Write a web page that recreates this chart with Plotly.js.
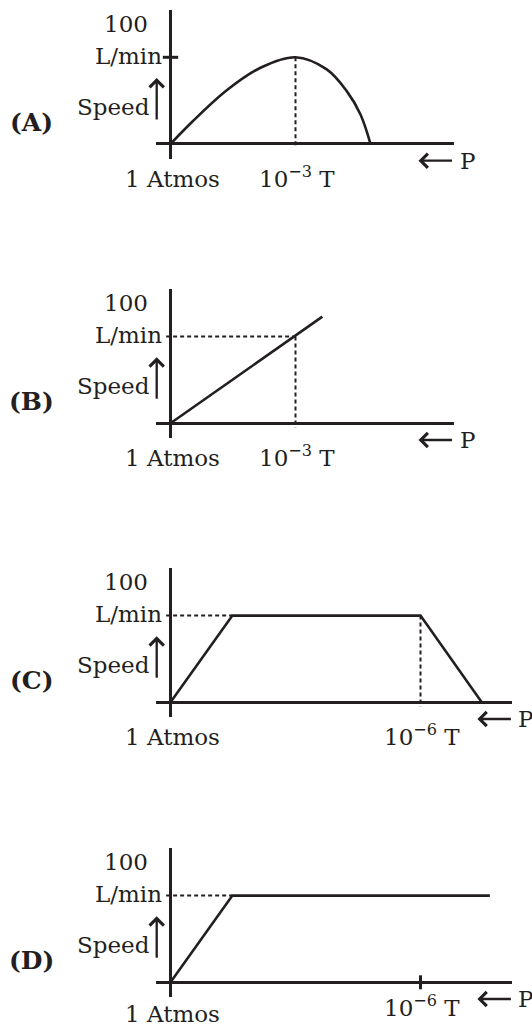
<!DOCTYPE html>
<html>
<head>
<meta charset="utf-8">
<script src="https://cdn.plot.ly/plotly-3.0.1.min.js"></script>
<style>
  html, body { margin: 0; padding: 0; background: #fff; }
  #plot { width: 532px; height: 1028px; }
</style>
</head>
<body>
<div id="plot"></div>
<script>
// four sketches of pump speed vs pressure (pressure falls to the right)

// panel names and axis labels
let panelNames = ['(A)', '(B)', '(C)', '(D)']
let speedTop = '100'
let speedUnit = 'L/min'
let speedName = 'Speed'
let startLabel = '1 Atmos'
let pressureLabels = ['10<sup>\u22123</sup> T', '10<sup>\u22123</sup> T', '10<sup>\u22126</sup> T', '10<sup>\u22126</sup> T']
let pressureMarks = [1, 1, 2, 2] // where the marked pressure sits on the x axis

// speed curves (x in schematic pressure units, y in L/min)
let curveA_x = [0, 0.18, 0.45, 0.72, 1.0, 1.25, 1.41, 1.52, 1.6]
let curveA_y = [0, 26.5, 62, 88, 100, 86, 61, 34, 0]
let curveB_x = [0, 1.215]
let curveB_y = [0, 123]
let curveC_x = [0, 0.495, 2.0, 2.49]
let curveC_y = [0, 100, 100, 0]
let curveD_x = [0, 0.495, 2.555]
let curveD_y = [0, 100, 100]

// dashed guide lines (null breaks the line)
let guideA_x = [1, 1]
let guideA_y = [100, -5]
let guideB_x = [-0.035, 1, null, 1, 1]
let guideB_y = [100, 100, null, 100, -5]
let guideC_x = [-0.035, 0.495, null, 2, 2]
let guideC_y = [100, 100, null, 100, -5]
let guideD_x = [-0.035, 0.495]
let guideD_y = [100, 100]

let curvesX = [curveA_x, curveB_x, curveC_x, curveD_x]
let curvesY = [curveA_y, curveB_y, curveC_y, curveD_y]
let guidesX = [guideA_x, guideB_x, guideC_x, guideD_x]
let guidesY = [guideA_y, guideB_y, guideC_y, guideD_y]

// page geometry in pixels
let W = 532, H = 1028
let ink = '#231f20'
let font = 'DejaVu Serif'
let zeroPx = [144, 423.3, 702.3, 982.3] // y pixel of each x axis
let rightPx = [453.5, 453.5, 512.4, 512.4] // right end of each x axis
let originPx = 170.5, leftPx = 155.5
let pxPerX = 125, pxPerY = 0.867
let yRange = [-17, 154.5]

function PX(x) { return x / W }
function PY(y) { return 1 - y / H }

let data = []
let layout = {
    width: W,
    height: H,
    margin: { l: 0, r: 0, t: 0, b: 0, pad: 0 },
    paper_bgcolor: '#fff',
    plot_bgcolor: 'rgba(0,0,0,0)',
    showlegend: false,
    font: { family: font, size: 23, color: ink },
    annotations: []
}

for (let i = 0; i < 4; i++) {
    let n = i == 0 ? '' : String(i + 1)
    let Z = zeroPx[i]

    layout['xaxis' + n] = {
        domain: [PX(leftPx), PX(rightPx[i])],
        range: [(leftPx - originPx) / pxPerX, (rightPx[i] - originPx) / pxPerX],
        anchor: 'y' + n,
        showgrid: false, showticklabels: false, ticks: '', showline: false,
        zeroline: true, zerolinewidth: 3, zerolinecolor: ink,
        fixedrange: true
    }
    layout['yaxis' + n] = {
        domain: [PY(Z - yRange[0] * pxPerY), PY(Z - yRange[1] * pxPerY)],
        range: yRange,
        anchor: 'x' + n,
        showgrid: false, showticklabels: false, ticks: '', showline: false,
        zeroline: true, zerolinewidth: 3, zerolinecolor: ink,
        fixedrange: true
    }

    // dashed guides
    data.push({
        x: guidesX[i], y: guidesY[i],
        xaxis: 'x' + n, yaxis: 'y' + n,
        mode: 'lines', hoverinfo: 'skip', cliponaxis: false,
        line: { color: ink, width: 2, dash: '4px,3px' }
    })
    // speed curve
    data.push({
        x: curvesX[i], y: curvesY[i],
        xaxis: 'x' + n, yaxis: 'y' + n,
        mode: 'lines', hoverinfo: 'skip', cliponaxis: false,
        line: { color: ink, width: 2.6, shape: i == 0 ? 'spline' : 'linear', smoothing: 1 }
    })

    let ann = layout.annotations
    ann.push({ text: '<b>' + panelNames[i] + '</b>', xref: 'paper', yref: 'paper',
        x: PX(31.5), y: PY(Z - 21.5), xanchor: 'center', yanchor: 'middle',
        showarrow: false, font: { size: 25 } })
    ann.push({ text: speedTop, xref: 'paper', yref: 'paper',
        x: PX(126), y: PY(Z - 120), xanchor: 'center', yanchor: 'middle', showarrow: false })
    ann.push({ text: speedUnit, xref: 'paper', yref: 'paper',
        x: PX(164), y: PY(Z - 88.5), xanchor: 'right', yanchor: 'middle', showarrow: false })
    ann.push({ text: speedName, xref: 'paper', yref: 'paper',
        x: PX(152), y: PY(Z - 37), xanchor: 'right', yanchor: 'middle', showarrow: false })
    // upward arrow next to Speed
    ann.push({ text: '', xref: 'paper', yref: 'paper',
        x: PX(156.7), y: PY(Z - 66), ax: 0, ay: 43,
        showarrow: true, arrowhead: 4, arrowsize: 1.2, arrowwidth: 2.3, arrowcolor: ink, standoff: 0 })
    // the last "1 Atmos" sits on the bottom edge, so anchor it there
    if (i == 3) {
        ann.push({ text: startLabel, xref: 'paper', yref: 'paper',
            x: PX(172.5), y: 0, xanchor: 'center', yanchor: 'bottom', borderpad: 0, showarrow: false })
    } else {
        ann.push({ text: startLabel, xref: 'paper', yref: 'paper',
            x: PX(172.5), y: PY(Z + 34.5), xanchor: 'center', yanchor: 'middle', showarrow: false })
    }
    ann.push({ text: pressureLabels[i], xref: 'x' + n, yref: 'paper',
        x: pressureMarks[i] + 0.01, y: PY(Z + (i == 3 ? 24 : 33)), xanchor: 'center', yanchor: 'middle', showarrow: false })
    // "<- P"
    ann.push({ text: '', xref: 'paper', yref: 'paper',
        x: PX(rightPx[i] - 35), y: PY(Z + 16.7), ax: 35, ay: 0,
        showarrow: true, arrowhead: 4, arrowsize: 1.2, arrowwidth: 2.3, arrowcolor: ink, standoff: 0 })
    ann.push({ text: 'P', xref: 'paper', yref: 'paper',
        x: PX(rightPx[i] + 4), y: PY(Z + 16.7), xanchor: 'left', yanchor: 'middle', showarrow: false })
}

// small crossing ticks: L/min on (A), 10^-6 T on (D)
data.push({
    x: [0], y: [100], xaxis: 'x', yaxis: 'y',
    mode: 'markers', hoverinfo: 'skip', cliponaxis: false,
    marker: { symbol: 'line-ew', size: 11, color: ink, line: { width: 3, color: ink } }
})
data.push({
    x: [pressureMarks[3]], y: [0], xaxis: 'x4', yaxis: 'y4',
    mode: 'markers', hoverinfo: 'skip', cliponaxis: false,
    marker: { symbol: 'line-ns', size: 10, color: ink, line: { width: 3, color: ink } }
})

Plotly.newPlot('plot', data, layout, { staticPlot: true })
</script>
</body>
</html>
